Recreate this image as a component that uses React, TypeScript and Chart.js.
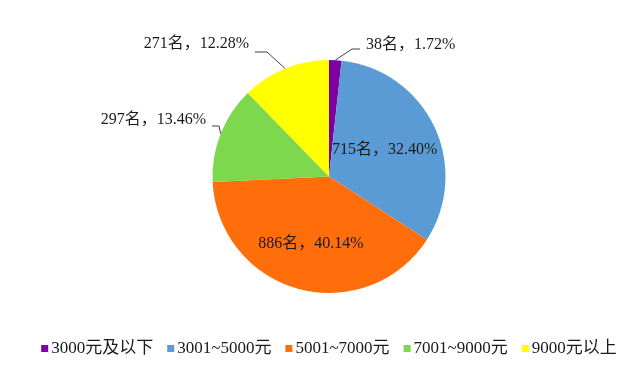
import React, { useEffect, useRef } from "react";
import { Chart, registerables } from "chart.js";

Chart.register(...registerables);

const categories = ["3000元及以下", "3001~5000元", "5001~7000元", "7001~9000元", "9000元以上"];
const counts = [38, 715, 886, 297, 271];
const percents = ["1.72", "32.40", "40.14", "13.46", "12.28"];
const colors = ["#7E00A2", "#5B9BD5", "#FF6E0A", "#7ED84E", "#FFFF00"];

const FONT = '"Liberation Serif", "Noto Sans CJK SC", serif';

// label placement: inside labels at a fraction of radius, outside with leader lines
const labelPlacement: any[] = [
  { inside: false, ex: 23, ey: -127.5, len: 8, side: 1, tdy: -4 },
  { inside: true, r: 0.53 },
  { inside: true, r: 0.6 },
  { inside: false, ex: -110, ey: -50.5, len: 7, side: -1, tdy: -6 },
  { inside: false, ex: -62, ey: -124.5, len: 12, side: -1, tdy: -8 },
];

const labelPlugin = {
  id: "sliceLabels",
  afterDatasetsDraw(chart: any) {
    const ctx = chart.ctx;
    const meta = chart.getDatasetMeta(0);
    ctx.save();
    ctx.font = `16px ${FONT}`;
    ctx.fillStyle = "#1a1a1a";
    ctx.strokeStyle = "#404040";
    ctx.lineWidth = 1;
    ctx.textBaseline = "middle";
    meta.data.forEach((arc: any, i: number) => {
      const p = arc.getProps(["x", "y", "startAngle", "endAngle", "outerRadius"], true);
      const mid = (p.startAngle + p.endAngle) / 2;
      const text = `${counts[i]}名，${percents[i]}%`;
      const pl = labelPlacement[i];
      if (pl.inside) {
        const d = p.outerRadius * pl.r;
        ctx.textAlign = "center";
        ctx.fillText(text, p.x + Math.cos(mid) * d, p.y + Math.sin(mid) * d);
      } else {
        const edgeX = p.x + Math.cos(mid) * p.outerRadius;
        const edgeY = p.y + Math.sin(mid) * p.outerRadius;
        const elX = p.x + pl.ex;
        const elY = p.y + pl.ey;
        const endX = elX + pl.side * pl.len;
        ctx.beginPath();
        ctx.moveTo(edgeX, edgeY);
        ctx.lineTo(elX, elY);
        ctx.lineTo(endX, elY);
        ctx.stroke();
        ctx.textAlign = pl.side > 0 ? "left" : "right";
        ctx.fillText(text, endX + pl.side * 6, elY + pl.tdy);
      }
    });
    ctx.restore();
  },
};

const legendPlugin = {
  id: "customLegend",
  afterDraw(chart: any) {
    const ctx = chart.ctx;
    const labels: string[] = chart.data.labels;
    const bg: string[] = chart.data.datasets[0].backgroundColor;
    ctx.save();
    ctx.font = `17px ${FONT}`;
    ctx.textBaseline = "middle";
    ctx.textAlign = "left";
    const box = 7;
    const gap = 3;
    const spacing = 14;
    const widths = labels.map((l) => ctx.measureText(l).width);
    const total = widths.reduce((a, w) => a + box + gap + w, 0) + spacing * (labels.length - 1);
    const cx = (chart.chartArea.left + chart.chartArea.right) / 2;
    let x = cx - total / 2;
    const y = 348.5;
    labels.forEach((l, i) => {
      ctx.fillStyle = bg[i];
      ctx.fillRect(x, y - box / 2, box, box);
      ctx.fillStyle = "#1a1a1a";
      ctx.fillText(l, x + box + gap, y);
      x += box + gap + widths[i] + spacing;
    });
    ctx.restore();
  },
};

export default function App() {
  const ref = useRef<HTMLCanvasElement>(null);
  useEffect(() => {
    if (!ref.current) return;
    const chart = new Chart(ref.current, {
      type: "pie",
      data: {
        labels: categories,
        datasets: [
          {
            data: counts,
            backgroundColor: colors,
            borderWidth: 0,
          },
        ],
      },
      options: {
        animation: false,
        responsive: false,
        maintainAspectRatio: false,
        layout: { padding: { top: 60, bottom: 78, left: 26, right: 0 } },
        plugins: {
          legend: { display: false },
          tooltip: { enabled: false },
        },
      },
      plugins: [labelPlugin, legendPlugin],
    });
    return () => chart.destroy();
  }, []);
  return (
    <div style={{ position: "fixed", left: 0, top: 0, width: 632, height: 371, background: "#fff" }}>
      <canvas ref={ref} width={632} height={371} style={{ width: 632, height: 371, display: "block" }} />
    </div>
  );
}
